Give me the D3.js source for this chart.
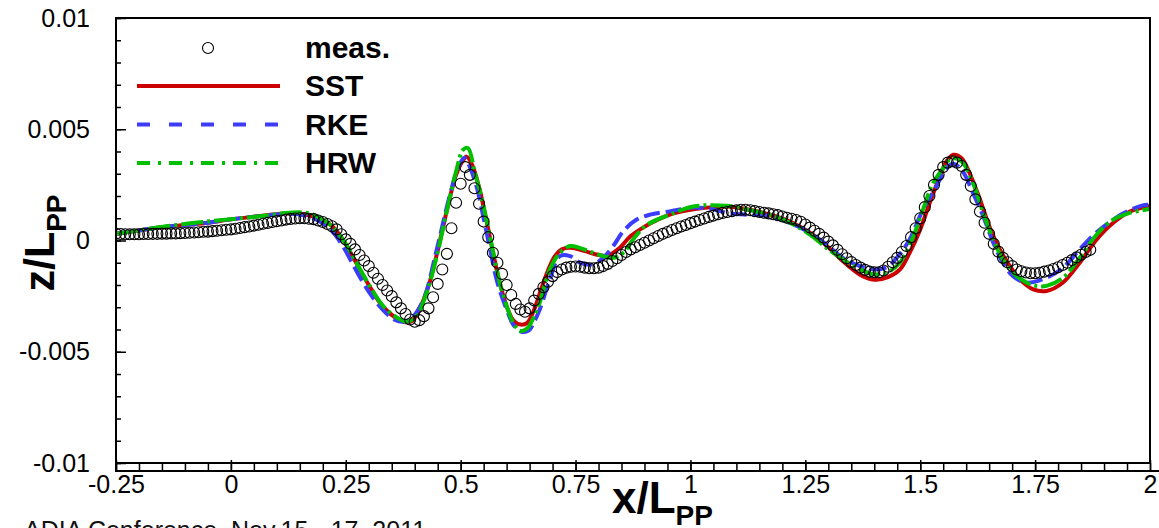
<!DOCTYPE html>
<html>
<head>
<meta charset="utf-8">
<script src="https://cdn.jsdelivr.net/npm/d3@7"></script>
<style>
body { margin: 0; background: #fff; overflow: hidden; }
text { font-family: "Liberation Sans", Arial, Helvetica, sans-serif; }
</style>
</head>
<body>
<svg width="1159" height="528"></svg>
<script>
// axis ticks (z values stored in units of 1e-3)
var xTicks = [-0.25, 0, 0.25, 0.5, 0.75, 1, 1.25, 1.5, 1.75, 2];
var xTickLabels = ["-0.25", "0", "0.25", "0.5", "0.75", "1", "1.25", "1.5", "1.75", "2"];
var yTicks = [-10, -5, 0, 5, 10];
var yTickLabels = ["-0.01", "-0.005", "0", "0.005", "0.01"];
var seriesNames = ["meas.", "SST", "RKE", "HRW"];

// measured wave profile [x/Lpp, z/Lpp*1000]
var meas = [
  [-0.25,0.30],[-0.24,0.29],[-0.23,0.28],[-0.22,0.28],[-0.21,0.28],[-0.20,0.28],[-0.19,0.29],[-0.18,0.29],[-0.17,0.30],[-0.16,0.30],
  [-0.15,0.31],[-0.14,0.31],[-0.13,0.32],[-0.12,0.32],[-0.11,0.33],[-0.10,0.34],[-0.09,0.35],[-0.08,0.36],[-0.07,0.37],[-0.06,0.39],
  [-0.05,0.40],[-0.04,0.42],[-0.03,0.44],[-0.02,0.46],[-0.01,0.48],[0.00,0.50],[0.01,0.53],[0.02,0.56],[0.03,0.60],[0.04,0.63],
  [0.05,0.67],[0.06,0.71],[0.07,0.75],[0.08,0.79],[0.09,0.83],[0.10,0.87],[0.11,0.90],[0.12,0.94],[0.13,0.97],[0.14,0.99],
  [0.15,1.00],[0.16,1.00],[0.17,0.98],[0.18,0.96],[0.19,0.90],[0.20,0.83],[0.21,0.74],[0.22,0.64],[0.23,0.50],[0.24,0.28],
  [0.25,0.05],[0.26,-0.15],[0.27,-0.40],[0.28,-0.65],[0.29,-0.90],[0.30,-1.15],[0.31,-1.45],[0.32,-1.72],[0.33,-2.00],[0.34,-2.25],
  [0.35,-2.50],[0.36,-2.78],[0.37,-3.05],[0.38,-3.30],[0.39,-3.55],[0.40,-3.65],[0.41,-3.58],[0.42,-3.40],[0.43,-3.05],[0.44,-2.55],
  [0.45,-1.95],[0.46,-1.30],[0.47,-0.60],[0.48,0.55],[0.49,1.70],[0.50,2.55],[0.51,3.30],[0.52,2.95],[0.53,2.35],[0.54,1.65],
  [0.55,0.85],[0.56,0.15],[0.57,-0.55],[0.58,-1.00],[0.59,-1.50],[0.60,-2.00],[0.61,-2.45],[0.62,-2.85],[0.63,-3.10],[0.64,-3.20],
  [0.65,-3.05],[0.66,-2.70],[0.67,-2.40],[0.68,-2.10],[0.69,-1.85],[0.70,-1.60],[0.71,-1.42],[0.72,-1.30],[0.73,-1.22],[0.74,-1.18],
  [0.75,-1.17],[0.76,-1.18],[0.77,-1.22],[0.78,-1.25],[0.79,-1.25],[0.80,-1.22],[0.81,-1.15],[0.82,-1.05],[0.83,-0.92],[0.84,-0.80],
  [0.85,-0.65],[0.86,-0.52],[0.87,-0.40],[0.88,-0.30],[0.89,-0.20],[0.90,-0.10],[0.91,0.00],[0.92,0.10],[0.93,0.20],[0.94,0.30],
  [0.95,0.38],[0.96,0.47],[0.97,0.55],[0.98,0.63],[0.99,0.70],[1.00,0.78],[1.01,0.85],[1.02,0.92],[1.03,0.99],[1.04,1.06],
  [1.05,1.12],[1.06,1.18],[1.07,1.24],[1.08,1.28],[1.09,1.32],[1.10,1.36],[1.11,1.38],[1.12,1.38],[1.13,1.36],[1.14,1.32],
  [1.15,1.28],[1.16,1.25],[1.17,1.22],[1.18,1.18],[1.19,1.14],[1.20,1.08],[1.21,1.02],[1.22,0.98],[1.23,0.92],[1.24,0.84],
  [1.25,0.72],[1.26,0.58],[1.27,0.44],[1.28,0.30],[1.29,0.13],[1.30,-0.05],[1.31,-0.22],[1.32,-0.42],[1.33,-0.62],[1.34,-0.80],
  [1.35,-0.97],[1.36,-1.10],[1.37,-1.22],[1.38,-1.32],[1.39,-1.40],[1.40,-1.43],[1.41,-1.43],[1.42,-1.35],[1.43,-1.18],[1.44,-0.98],
  [1.45,-0.78],[1.46,-0.52],[1.47,-0.25],[1.48,0.15],[1.49,0.55],[1.50,1.00],[1.51,1.50],[1.52,2.00],[1.53,2.50],[1.54,2.95],
  [1.55,3.30],[1.56,3.50],[1.57,3.56],[1.58,3.50],[1.59,3.35],[1.60,2.95],[1.61,2.45],[1.62,1.85],[1.63,1.30],[1.64,0.80],
  [1.65,0.30],[1.66,-0.15],[1.67,-0.50],[1.68,-0.78],[1.69,-0.98],[1.70,-1.15],[1.71,-1.30],[1.72,-1.38],[1.73,-1.44],[1.74,-1.47],
  [1.75,-1.47],[1.76,-1.45],[1.77,-1.40],[1.78,-1.35],[1.79,-1.28],[1.80,-1.20],[1.81,-1.10],[1.82,-1.00],[1.83,-0.88],[1.84,-0.76],
  [1.85,-0.64],[1.86,-0.52],[1.87,-0.42]
];

// CFD results
var sst = [
  [-0.25,0.30],[-0.20,0.45],[-0.15,0.60],[-0.10,0.70],[-0.05,0.80],[0.00,0.95],[0.05,1.07],[0.10,1.18],[0.13,1.23],[0.16,1.18],
  [0.19,1.00],[0.22,0.65],[0.245,0.0],[0.27,-0.9],[0.30,-2.0],[0.33,-2.95],[0.36,-3.5],[0.38,-3.68],[0.395,-3.6],[0.41,-3.1],
  [0.43,-2.05],[0.45,-0.45],[0.47,1.35],[0.49,2.95],[0.505,3.6],[0.513,3.77],[0.525,3.4],[0.54,2.4],[0.555,1.0],[0.57,-0.5],
  [0.585,-1.9],[0.60,-2.95],[0.615,-3.6],[0.63,-3.78],[0.645,-3.7],[0.66,-3.1],[0.675,-2.2],[0.69,-1.35],[0.705,-0.7],[0.72,-0.4],
  [0.74,-0.33],[0.77,-0.48],[0.80,-0.65],[0.82,-0.68],[0.845,-0.35],[0.87,0.2],[0.90,0.62],[0.93,0.95],[0.96,1.2],[1.00,1.38],
  [1.05,1.5],[1.08,1.53],[1.12,1.42],[1.17,1.18],[1.22,0.82],[1.26,0.35],[1.30,-0.3],[1.33,-0.9],[1.37,-1.55],[1.40,-1.76],
  [1.43,-1.65],[1.456,-1.3],[1.477,-0.55],[1.50,0.5],[1.52,1.65],[1.543,2.9],[1.557,3.55],[1.572,3.85],[1.59,3.7],[1.608,3.0],
  [1.63,1.85],[1.65,0.65],[1.673,-0.4],[1.695,-1.15],[1.717,-1.75],[1.746,-2.2],[1.775,-2.27],[1.81,-1.9],[1.847,-1.0],[1.884,0.05],
  [1.92,0.8],[1.956,1.3],[2.00,1.55]
];
var rke = [
  [-0.25,0.30],[-0.20,0.45],[-0.15,0.60],[-0.10,0.70],[-0.05,0.80],[0.00,0.95],[0.05,1.07],[0.10,1.17],[0.13,1.2],[0.16,1.12],
  [0.19,0.9],[0.22,0.42],[0.245,-0.3],[0.27,-1.25],[0.30,-2.3],[0.33,-3.1],[0.355,-3.55],[0.378,-3.65],[0.395,-3.45],[0.42,-2.6],
  [0.448,-0.4],[0.476,2.0],[0.495,3.3],[0.508,3.72],[0.52,3.3],[0.535,2.4],[0.55,1.0],[0.565,-0.5],[0.58,-1.9],[0.60,-3.1],
  [0.615,-3.8],[0.632,-4.1],[0.648,-4.05],[0.66,-3.65],[0.672,-3.1],[0.694,-1.75],[0.716,-0.7],[0.738,-0.7],[0.76,-1.0],[0.788,-1.07],
  [0.81,-0.78],[0.832,-0.25],[0.854,0.42],[0.883,0.94],[0.912,1.16],[0.955,1.31],[1.006,1.48],[1.05,1.4],[1.079,1.24],[1.122,1.16],
  [1.173,1.09],[1.224,0.72],[1.26,0.34],[1.296,-0.18],[1.332,-0.78],[1.369,-1.15],[1.398,-1.3],[1.427,-1.2],[1.448,-0.8],[1.477,0.05],
  [1.506,1.39],[1.535,2.43],[1.557,3.25],[1.572,3.45],[1.59,3.18],[1.615,2.13],[1.637,1.09],[1.659,-0.1],[1.68,-1.0],[1.702,-1.6],
  [1.731,-1.89],[1.775,-1.67],[1.811,-1.22],[1.847,-0.4],[1.884,0.37],[1.941,1.21],[1.984,1.58],[2.00,1.61]
];
var hrw = [
  [-0.25,0.30],[-0.21,0.42],[-0.14,0.64],[-0.0675,0.82],[0.005,0.97],[0.078,1.12],[0.128,1.25],[0.172,1.21],[0.215,0.72],[0.244,0.04],
  [0.273,-1.0],[0.302,-2.04],[0.331,-2.94],[0.361,-3.46],[0.382,-3.65],[0.404,-3.39],[0.426,-2.34],[0.448,-0.7],[0.469,1.24],[0.491,3.18],
  [0.505,4.07],[0.516,4.15],[0.531,3.03],[0.545,1.98],[0.556,0.94],[0.571,-0.55],[0.585,-1.89],[0.60,-2.94],[0.614,-3.68],[0.629,-4.06],
  [0.645,-3.95],[0.66,-3.4],[0.672,-2.79],[0.694,-1.3],[0.716,-0.55],[0.738,-0.25],[0.759,-0.33],[0.788,-0.55],[0.81,-0.7],[0.832,-0.78],
  [0.854,-0.55],[0.875,0.04],[0.897,0.57],[0.919,0.86],[0.955,1.16],[1.006,1.53],[1.079,1.56],[1.122,1.39],[1.173,1.16],[1.224,0.72],
  [1.26,0.27],[1.296,-0.33],[1.332,-0.85],[1.369,-1.3],[1.398,-1.52],[1.427,-1.45],[1.456,-0.99],[1.485,0.19],[1.506,1.39],[1.528,2.58],
  [1.55,3.25],[1.568,3.7],[1.59,3.55],[1.615,2.58],[1.637,1.24],[1.659,0.04],[1.68,-0.85],[1.702,-1.45],[1.731,-1.89],[1.753,-2.04],
  [1.775,-2.04],[1.811,-1.67],[1.847,-0.78],[1.884,0.27],[1.92,0.94],[1.956,1.24],[2.00,1.42]
];

var svg = d3.select("svg");

// frame box (window.top is read-only, hence the prefixed names)
var frameLeft = 116, frameRight = 1150, frameTop = 18, frameBottom = 463,
    axisY = 471;

var x = d3.scaleLinear().domain([-0.25, 2]).range([frameLeft, frameRight]);
var y = d3.scaleLinear().domain([-10, 10]).range([frameBottom, frameTop]);

svg.append("defs").append("clipPath")
    .attr("id", "plotclip")
    .append("rect")
    .attr("x", frameLeft).attr("y", frameTop)
    .attr("width", frameRight - frameLeft).attr("height", frameBottom - frameTop);

// curves
var line = d3.line()
    .x(function(d) { return x(d[0]); })
    .y(function(d) { return y(d[1]); })
    .curve(d3.curveCatmullRom.alpha(0.5));

var series = [
    {data: sst, color: "#cc0000", dash: null},
    {data: rke, color: "#3c3cff", dash: "16,6"},
    {data: hrw, color: "#00c000", dash: "22,4,3,4"}
];

var plot = svg.append("g").attr("clip-path", "url(#plotclip)");

plot.selectAll("path.curve")
    .data(series)
    .enter().append("path")
    .attr("class", "curve")
    .attr("d", function(d) { return line(d.data); })
    .attr("fill", "none")
    .attr("stroke", function(d) { return d.color; })
    .attr("stroke-width", 4)
    .attr("stroke-dasharray", function(d) { return d.dash; });

// measurements
plot.append("g")
    .selectAll("circle")
    .data(meas)
    .enter().append("circle")
    .attr("cx", function(d) { return x(d[0]); })
    .attr("cy", function(d) { return y(d[1]); })
    .attr("r", 5.5)
    .attr("fill", "none")
    .attr("stroke", "#000")
    .attr("stroke-width", 1.1);

// frame
svg.append("rect")
    .attr("x", frameLeft).attr("y", frameTop)
    .attr("width", frameRight - frameLeft).attr("height", frameBottom - frameTop)
    .attr("fill", "none")
    .attr("stroke", "#000")
    .attr("stroke-width", 2);

// x axis sits a little under the frame, ticks pointing up
var xMinor = d3.axisBottom(x)
    .tickValues(d3.range(0, 46).map(function(i) { return -0.25 + i * 0.05; }))
    .tickSize(-8).tickSizeOuter(0).tickFormat("");
var xMajor = d3.axisBottom(x)
    .tickValues(xTicks)
    .tickSize(-11).tickSizeOuter(0).tickPadding(4)
    .tickFormat(function(d, i) { return xTickLabels[i]; });

var gx1 = svg.append("g").attr("transform", "translate(0," + axisY + ")").call(xMinor);
var gx2 = svg.append("g").attr("transform", "translate(0," + axisY + ")").call(xMajor);

// y axis on the left frame, ticks pointing in
var yMinor = d3.axisLeft(y)
    .tickValues(d3.range(-10, 11))
    .tickSize(-5).tickSizeOuter(0).tickFormat("");
var yMajor = d3.axisLeft(y)
    .tickValues(yTicks)
    .tickSize(-10).tickSizeOuter(0).tickPadding(26)
    .tickFormat(function(d, i) { return yTickLabels[i]; });

var gy1 = svg.append("g").attr("transform", "translate(" + frameLeft + ",0)").call(yMinor);
var gy2 = svg.append("g").attr("transform", "translate(" + frameLeft + ",0)").call(yMajor);

[gx1, gx2, gy1, gy2].forEach(function(g) {
    g.select(".domain").remove();
    g.selectAll(".tick line").attr("stroke", "#000").attr("stroke-width", 1.5);
    g.selectAll(".tick text")
        .attr("fill", "#000")
        .style("font-size", "25px")
        .style("font-family", "'Liberation Sans', Arial, sans-serif");
});

// axis line under the frame and the left spine down to it
svg.append("line")
    .attr("x1", frameLeft - 1).attr("x2", 1159)
    .attr("y1", axisY).attr("y2", axisY)
    .attr("stroke", "#000").attr("stroke-width", 2);
svg.append("line")
    .attr("x1", frameLeft).attr("x2", frameLeft)
    .attr("y1", frameTop).attr("y2", axisY)
    .attr("stroke", "#000").attr("stroke-width", 2);

// axis titles
var xt = svg.append("text")
    .attr("x", 612).attr("y", 513)
    .attr("font-weight", "bold")
    .style("font-size", "44px");
xt.append("tspan").text("x/L");
xt.append("tspan").attr("dy", 12).style("font-size", "28px").text("PP");

var yt = svg.append("text")
    .attr("transform", "translate(54,243) rotate(-90)")
    .attr("text-anchor", "middle")
    .attr("font-weight", "bold")
    .style("font-size", "43px");
yt.append("tspan").text("z/L");
yt.append("tspan").attr("dy", 12).style("font-size", "28px").text("PP");

// legend
var legendY = [48, 86, 124.5, 163];
var legend = svg.append("g");

legend.append("circle")
    .attr("cx", 208).attr("cy", legendY[0]).attr("r", 5.5)
    .attr("fill", "none").attr("stroke", "#000").attr("stroke-width", 1.1);

var legendDash = [null, "13,19", "13,8,3,8"];
series.forEach(function(s, i) {
    legend.append("line")
        .attr("x1", 137).attr("x2", 280)
        .attr("y1", legendY[i + 1]).attr("y2", legendY[i + 1])
        .attr("stroke", s.color)
        .attr("stroke-width", 4)
        .attr("stroke-dasharray", legendDash[i]);
});

legend.selectAll("text")
    .data(seriesNames)
    .enter().append("text")
    .attr("x", 305)
    .attr("y", function(d, i) { return legendY[i] + 10; })
    .attr("font-weight", "bold")
    .style("font-size", "30px")
    .text(function(d) { return d; });

// footer line, cut off by the bottom of the picture
svg.append("text")
    .attr("x", 24).attr("y", 539)
    .attr("fill", "#111")
    .style("font-size", "25px")
    .text("ADIA Conference, Nov.15 - 17, 2011");
</script>
</body>
</html>
